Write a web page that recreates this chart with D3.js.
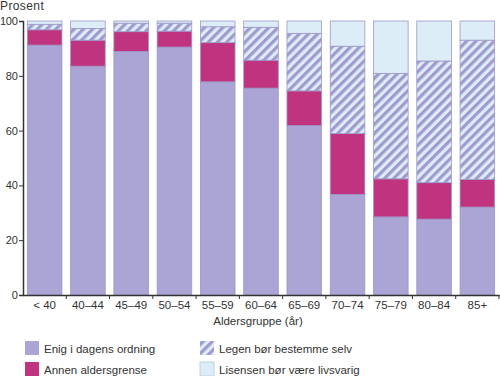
<!DOCTYPE html>
<html><head><meta charset="utf-8">
<script src="https://cdn.jsdelivr.net/npm/d3@7"></script>
<style>body{margin:0;background:#fff}svg{display:block;font-family:"Liberation Sans",Arial,sans-serif}</style>
</head><body><svg id="c" width="500" height="376"></svg>
<script>
const categories = ["< 40","40–44","45–49","50–54","55–59","60–64","65–69","70–74","75–79","80–84","85+"];
const enig      = [91.2, 83.5, 88.9, 90.5, 77.8, 75.5, 61.8, 36.7, 28.5, 27.7, 32.1];
const annen     = [5.6, 9.5, 7.2, 5.8, 14.3, 10.2, 12.7, 22.2, 13.9, 13.3, 10.1];
const legen     = [2.0, 4.3, 3.1, 2.9, 5.8, 12.0, 21.0, 31.9, 38.5, 44.4, 50.8];
const livsvarig = [1.2, 2.7, 0.8, 0.8, 2.1, 2.3, 4.5, 9.2, 19.1, 14.6, 7.0];
const yTicks = [0, 20, 40, 60, 80, 100];
const seriesNames = ["Enig i dagens ordning","Annen aldersgrense","Legen bør bestemme selv","Lisensen bør være livsvarig"];

const svg = d3.select("#c");
const defs = svg.append("defs");
const pat = defs.append("pattern").attr("id","hatch").attr("patternUnits","userSpaceOnUse")
  .attr("width",6.5).attr("height",6.5).attr("patternTransform","rotate(45)");
pat.append("rect").attr("width",6.5).attr("height",6.5).attr("fill","#dcedf7");
pat.append("rect").attr("x",0).attr("width",3.2).attr("height",6.5).attr("fill","#a19ad0");

const colors = ["#aaa5d4","#c0337f","url(#hatch)","#dcedf7"];
const x = d3.scaleBand().domain(categories).range([23,499]).paddingInner(0.2).paddingOuter(0.1);
const y = d3.scaleLinear().domain([0,100]).range([295,21]);

const data = categories.map((c,i)=>({cat:c, s0:enig[i], s1:annen[i], s2:legen[i], s3:livsvarig[i]}));
const stack = d3.stack().keys(["s0","s1","s2","s3"]);
const layers = stack(data);

layers.forEach((layer,k)=>{
  svg.append("g").selectAll("rect").data(layer).join("rect")
    .attr("x", d=>x(d.data.cat))
    .attr("y", d=>y(d[1]))
    .attr("width", x.bandwidth())
    .attr("height", d=>y(d[0])-y(d[1]))
    .attr("fill", colors[k])
    .attr("stroke","#9d98c8").attr("stroke-width",0.8);
});

// y axis
const ya = svg.append("g").attr("transform","translate(23,0)")
  .call(d3.axisLeft(y).tickValues(yTicks).tickSize(4).tickPadding(1.5));
ya.select(".domain").attr("stroke","#333").attr("stroke-width",1.5);
ya.selectAll(".tick line").attr("stroke","#333");
ya.selectAll("text").attr("font-size",11).attr("letter-spacing",-0.3).attr("fill","#333");

// x axis
const xa = svg.append("g").attr("transform","translate(0,295)")
  .call(d3.axisBottom(x).tickSize(0).tickPadding(6));
xa.select(".domain").attr("stroke","#333").attr("stroke-width",1.5);
xa.selectAll("text").attr("font-size",11.5).attr("fill","#333");
// boundary ticks
const bounds = categories.slice(1).map(c=>x(c) - x.step()*x.paddingInner()/2).concat([499]);
svg.append("g").selectAll("line").data(bounds).join("line")
  .attr("x1",d=>d).attr("x2",d=>d).attr("y1",295).attr("y2",299)
  .attr("stroke","#333");

svg.append("text").attr("x",0).attr("y",10).attr("font-size",12).attr("letter-spacing",0.4).attr("fill","#333").text("Prosent");
svg.append("text").attr("x",258).attr("y",325).attr("text-anchor","middle").attr("font-size",11.5).attr("fill","#333").text("Aldersgruppe (år)");

// legend
const legPos = [[25,341],[25,362],[200,341],[200,362]];
seriesNames.forEach((n,k)=>{
  const [lx,ly] = legPos[k];
  svg.append("rect").attr("x",lx).attr("y",ly).attr("width",14).attr("height",14)
    .attr("fill",colors[k]).attr("stroke", k===3 ? "#b9d3e3" : "none");
  svg.append("text").attr("x",lx+19).attr("y",ly+11.5).attr("font-size",11.5).attr("fill","#333").text(n);
});
</script></body></html>
